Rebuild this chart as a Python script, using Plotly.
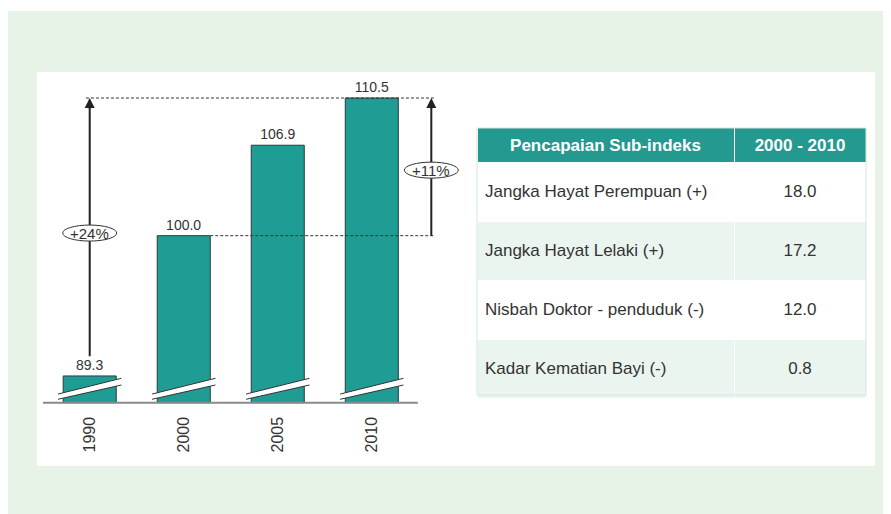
"""Indeks sub-kesihatan: broken-axis bar chart with a summary table."""

import plotly.graph_objects as go

# Data
years = ["1990", "2000", "2005", "2010"]
index_values = [89.3, 100.0, 106.9, 110.5]
index_labels = ["89.3", "100.0", "106.9", "110.5"]
change_labels = ["+24%", "+11%"]

table_header = ["Pencapaian Sub-indeks", "2000 - 2010"]
sub_indices = [
    "Jangka Hayat Perempuan (+)",
    "Jangka Hayat Lelaki (+)",
    "Nisbah Doktor - penduduk (-)",
    "Kadar Kematian Bayi (-)",
]
sub_changes = ["18.0", "17.2", "12.0", "0.8"]

# Style
OFF = 8                      # page body margin
W, H = 891 - OFF, 514 - OFF  # figure size so it ends at the window edge
TEAL = "#1f9d95"
HEAD_TEAL = "#23998f"
PANEL_GREEN = "#e8f3e7"
ROW_GREEN = "#ebf5ef"
INK = "#333333"
FONT = "Liberation Sans, Arial, sans-serif"

FLOOR = 87.26          # value where the (broken) axis starts
PX_PER_UNIT = 13.11    # vertical scale
BASE_PX, TOP_PX = 402.7, 80
X0_PX, STEP_PX = 89.7, 94.03
LEFT_PX, RIGHT_PX = 43, 465
HALF_W = 0.282         # half bar width in category units

# tiny invisible first line pushes cell text towards the row middle
PUSH = "<span style='font-size:4px'>&nbsp;</span><br>"


def px_x(p):
    return (p - OFF) / W


def px_y(p):
    return 1 - (p - OFF) / H


xs = list(range(len(years)))
y_lo = FLOOR - 2 / PX_PER_UNIT
y_hi = FLOOR + (BASE_PX - TOP_PX) / PX_PER_UNIT
x_lo = (LEFT_PX - X0_PX) / STEP_PX
x_hi = (RIGHT_PX - X0_PX) / STEP_PX

fig = go.Figure()

fig.add_trace(go.Bar(
    x=xs, y=[v - FLOOR for v in index_values], base=FLOOR,
    width=2 * HALF_W,
    marker=dict(color=TEAL, line=dict(color="#2b3b3a", width=1)),
    text=index_labels, textposition="outside", cliponaxis=False,
    textfont=dict(size=14, color=INK, family=FONT),
    hoverinfo="skip", showlegend=False,
))

fig.add_trace(go.Table(
    domain=dict(x=[px_x(477), px_x(866)], y=[px_y(430), px_y(127.5)]),
    columnwidth=[257, 132],
    header=dict(
        values=[f"<b>{h}</b>" for h in table_header],
        fill_color=HEAD_TEAL, line=dict(color="white", width=1),
        align="center", height=31,
        font=dict(color="white", size=17, family=FONT),
    ),
    cells=dict(
        values=[[PUSH + s for s in sub_indices], [PUSH + s for s in sub_changes]],
        fill_color=[["white", ROW_GREEN] * 2] * 2,
        line=dict(color="white", width=1),
        align=["left", "center"], height=59,
        font=dict(color=INK, size=17, family=FONT),
    ),
))

shapes = [
    # green outer panel and white inner panel
    dict(type="rect", xref="paper", yref="paper", x0=0, x1=1,
         y0=0, y1=px_y(11), fillcolor=PANEL_GREEN, line_width=0, layer="below"),
    dict(type="rect", xref="paper", yref="paper", x0=px_x(37), x1=px_x(875),
         y0=px_y(466), y1=px_y(72), fillcolor="white", line_width=0, layer="below"),
    # table outline
    dict(type="rect", xref="paper", yref="paper", x0=px_x(477), x1=px_x(866),
         y0=px_y(395), y1=px_y(128), line=dict(color="#d3e6de", width=1)),
    # baseline
    dict(type="line", xref="x", yref="y", x0=-0.5, x1=3.49, y0=FLOOR, y1=FLOOR,
         line=dict(color="#8a8a8a", width=2)),
    # dotted reference lines
    dict(type="line", xref="x", yref="y", x0=-0.04, x1=3.66,
         y0=index_values[3], y1=index_values[3],
         line=dict(color=INK, width=1, dash="3px,2px")),
    dict(type="line", xref="x", yref="y", x0=1 + HALF_W, x1=3.66,
         y0=index_values[1], y1=index_values[1],
         line=dict(color=INK, width=1, dash="3px,2px")),
]

# axis-break marks across each bar
for x in xs:
    xl, xr = x - HALF_W - 0.055, x + HALF_W + 0.055
    lo = (87.52, 88.61)
    hi = (87.92, 89.12)
    shapes.append(dict(
        type="path", xref="x", yref="y",
        path=f"M{xl},{lo[0]} L{xr},{lo[1]} L{xr},{hi[1]} L{xl},{hi[0]} Z",
        fillcolor="white", line_width=0,
    ))
    for a, b in (lo, hi):
        shapes.append(dict(type="line", xref="x", yref="y",
                           x0=xl, x1=xr, y0=a, y1=b,
                           line=dict(color=INK, width=1)))

# arrow shafts, then ellipses on top of them
arrow_x = [0, 3.633]
arrow_from = [index_values[0] + 1.5, index_values[1]]
ell_y = [100.2, 105.0]
for x, y0 in zip(arrow_x, arrow_from):
    shapes.append(dict(type="line", xref="x", yref="y", x0=x, x1=x,
                       y0=y0, y1=index_values[3] - 0.5,
                       line=dict(color="#222222", width=2)))
for x, y in zip(arrow_x, ell_y):
    shapes.append(dict(
        type="circle", xref="x", yref="y", xsizemode="pixel", ysizemode="pixel",
        xanchor=x, yanchor=y, x0=-27, x1=27, y0=-8, y1=8,
        fillcolor="white", line=dict(color=INK, width=1),
    ))

annotations = []
for x in arrow_x:
    annotations.append(dict(
        x=x, y=index_values[3], ax=0, ay=12, xref="x", yref="y",
        text="", showarrow=True, arrowhead=2, arrowsize=1,
        arrowwidth=2, arrowcolor="#222222",
    ))
for x, y, t in zip(arrow_x, ell_y, change_labels):
    annotations.append(dict(x=x, y=y, xref="x", yref="y", text=t, showarrow=False,
                            font=dict(size=15, color=INK, family=FONT)))

fig.update_layout(
    width=W, height=H,
    margin=dict(l=0, r=0, t=0, b=0),
    paper_bgcolor="white", plot_bgcolor="rgba(0,0,0,0)",
    font=dict(family=FONT, color=INK),
    shapes=shapes, annotations=annotations,
    xaxis=dict(
        domain=[px_x(LEFT_PX), px_x(RIGHT_PX)], range=[x_lo, x_hi],
        tickvals=xs, ticktext=years, tickangle=-90,
        tickfont=dict(size=16, color=INK, family=FONT),
        showgrid=False, zeroline=False, showline=False, ticks="",
        ticklabelstandoff=8,
    ),
    yaxis=dict(
        domain=[px_y(BASE_PX + 2), px_y(TOP_PX)], range=[y_lo, y_hi],
        visible=False, showgrid=False, zeroline=False,
    ),
)

fig.write_html("out.html")
